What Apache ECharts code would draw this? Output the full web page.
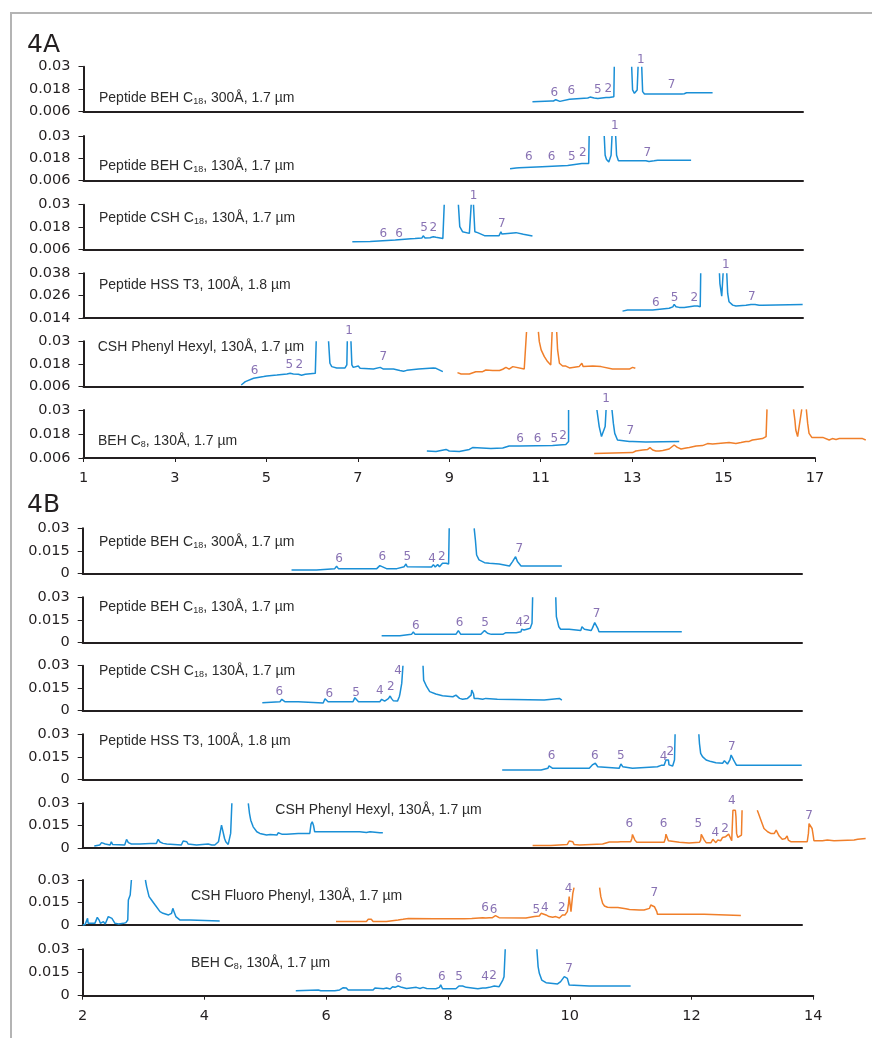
<!DOCTYPE html>
<html><head><meta charset="utf-8">
<script src="https://cdn.jsdelivr.net/npm/echarts@6/dist/echarts.min.js"></script>
<style>
html,body{margin:0;padding:0;background:#fff;overflow:hidden;}
#frame{position:absolute;left:10px;top:12px;width:900px;height:1100px;border-left:2px solid #b4b4b4;border-top:2px solid #b4b4b4;}
#chart{position:absolute;left:0;top:0;width:872px;height:1038px;}
</style></head>
<body><div id="frame"></div><div id="chart"></div>
<script>
// ---------- axis ranges / tick labels ----------
const xRangeA = [1, 17], xIntervalA = 2;
const xRangeB = [2, 14], xIntervalB = 2;
const yTicksA = [0.006, 0.018, 0.03];
const yTicksHSS = [0.014, 0.026, 0.038];
const yTicksB = [0, 0.015, 0.03];

// ---------- panel names ----------
const panelNamesA = [
  'Peptide BEH C{s|18}, 300Å, 1.7 µm',
  'Peptide BEH C{s|18}, 130Å, 1.7 µm',
  'Peptide CSH C{s|18}, 130Å, 1.7 µm',
  'Peptide HSS T3, 100Å, 1.8 µm',
  'CSH Phenyl Hexyl, 130Å, 1.7 µm',
  'BEH C{s|8}, 130Å, 1.7 µm'
];
const panelNamesB = [
  'Peptide BEH C{s|18}, 300Å, 1.7 µm',
  'Peptide BEH C{s|18}, 130Å, 1.7 µm',
  'Peptide CSH C{s|18}, 130Å, 1.7 µm',
  'Peptide HSS T3, 100Å, 1.8 µm',
  'CSH Phenyl Hexyl, 130Å, 1.7 µm',
  'CSH Fluoro Phenyl, 130Å, 1.7 µm',
  'BEH C{s|8}, 130Å, 1.7 µm'
];

// ---------- 4A traces ----------
const a1Blue = [[10.82,0.0113],[11.23,0.0117],[11.25,0.0122],[11.28,0.0117],[11.33,0.0124],[11.37,0.0115],[11.42,0.0115],[11.44,0.012],[11.63,0.0126],[11.64,0.0129],[12.03,0.0133],[12.05,0.0138],[12.08,0.0138],[12.10,0.0133],[12.17,0.0133],[12.21,0.014],[12.25,0.0131],[12.28,0.0136],[12.43,0.0136],[12.46,0.0144],[12.50,0.0136],[12.60,0.014],[12.61,0.03],[12.8,'-'],[12.99,0.03],[13.01,0.0176],[13.05,0.0158],[13.08,0.0154],[13.11,0.0176],[13.13,0.03],[13.17,'-'],[13.21,0.03],[13.23,0.0167],[13.27,0.0154],[13.81,0.0154],[13.85,0.0163],[13.89,0.0154],[14.09,0.0154],[14.10,0.0163],[14.14,0.0156],[14.19,0.0161],[14.76,0.0161]];
const a1Peaks = [[11.30,0.0158,'6'],[11.67,0.0172,'6'],[12.25,0.0179,'5'],[12.48,0.0181,'2'],[13.19,0.0339,'1'],[13.86,0.0202,'7']];

const a2Blue = [[10.33,0.0124],[10.46,0.0128],[10.50,0.0131],[10.53,0.0129],[11.03,0.0135],[11.04,0.014],[11.59,0.0142],[11.61,0.0151],[11.90,0.0152],[11.92,0.016],[11.95,0.0152],[12.05,0.0152],[12.06,0.03],[12.2,'-'],[12.39,0.03],[12.41,0.0197],[12.44,0.0174],[12.49,0.0161],[12.52,0.0167],[12.54,0.0197],[12.56,0.03],[12.6,'-'],[12.64,0.03],[12.66,0.0197],[12.70,0.0167],[13.17,0.0167],[13.21,0.0174],[13.23,0.0167],[13.30,0.0167],[13.32,0.0174],[13.37,0.0163],[13.48,0.0167],[13.52,0.0174],[13.56,0.017],[14.29,0.017]];
const a2Peaks = [[10.74,0.0188,'6'],[11.24,0.0188,'6'],[11.68,0.0188,'5'],[11.92,0.0209,'2'],[12.62,0.0355,'1'],[13.33,0.0209,'7']];

const a3Blue = [[6.88,0.0103],[7.27,0.0104],[7.28,0.0112],[7.82,0.0112],[7.84,0.0119],[8.16,0.0119],[8.19,0.0124],[8.25,0.012],[8.29,0.0122],[8.40,0.0122],[8.43,0.0134],[8.47,0.0122],[8.58,0.0124],[8.65,0.0129],[8.71,0.0126],[8.86,0.012],[8.89,0.012],[8.89,0.03],[9.0,'-'],[9.20,0.03],[9.23,0.0183],[9.29,0.0156],[9.44,0.0147],[9.46,0.0156],[9.48,0.03],[9.5,'-'],[9.53,0.03],[9.56,0.0156],[9.62,0.0151],[9.77,0.0135],[10.09,0.0135],[10.13,0.0156],[10.15,0.0144],[10.28,0.0147],[10.46,0.0151],[10.50,0.0144],[10.62,0.0142],[10.64,0.0133],[10.82,0.0133]];
const a3Peaks = [[7.56,0.0142,'6'],[7.90,0.0142,'6'],[8.45,0.0174,'5'],[8.65,0.0174,'2'],[9.53,0.0348,'1'],[10.15,0.020,'7']];

const a4Blue = [[12.79,0.0177],[12.90,0.0183],[13.45,0.0183],[13.48,0.0188],[13.81,0.0192],[13.89,0.020],[13.92,0.0213],[13.96,0.020],[14.03,0.0197],[14.07,0.0192],[14.14,0.0197],[14.18,0.0204],[14.36,0.0204],[14.40,0.0197],[14.43,0.0204],[14.49,0.02],[14.50,0.038],[14.7,'-'],[14.91,0.038],[14.92,0.0325],[14.95,0.0325],[14.96,0.0257],[14.99,0.0257],[14.99,0.038],[15.03,'-'],[15.07,0.038],[15.09,0.0272],[15.12,0.0227],[15.20,0.0209],[15.27,0.0204],[15.49,0.0208],[15.60,0.0213],[15.69,0.0213],[15.71,0.0204],[15.78,0.0209],[15.85,0.0208],[16.73,0.0213]];
const a4Peaks = [[13.52,0.0222,'6'],[13.93,0.025,'5'],[14.36,0.025,'2'],[15.05,0.0423,'1'],[15.62,0.0254,'7']];

const a5Blue = [[4.45,0.0067],[4.54,0.0085],[4.72,0.0103],[4.94,0.0112],[5.01,0.0115],[5.23,0.012],[5.45,0.0126],[5.48,0.0133],[5.52,0.0129],[5.59,0.0126],[5.70,0.0124],[5.77,0.0119],[5.81,0.0115],[5.85,0.0124],[6.07,0.0129],[6.09,0.03],[6.2,'-'],[6.36,0.03],[6.39,0.0183],[6.43,0.0165],[6.54,0.0158],[6.72,0.0158],[6.76,0.0174],[6.77,0.03],[6.8,'-'],[6.85,0.03],[6.87,0.0174],[6.90,0.0161],[7.01,0.0168],[7.05,0.0156],[7.34,0.0152],[7.49,0.0161],[7.52,0.017],[7.56,0.0152],[7.78,0.0152],[7.82,0.0144],[7.92,0.0144],[8.00,0.014],[8.07,0.0145],[8.33,0.0152],[8.65,0.0158],[8.71,0.0156],[8.86,0.0138]];
const a5Orange = [[9.18,0.0133],[9.26,0.0126],[9.44,0.0126],[9.58,0.0138],[9.73,0.0138],[9.80,0.0147],[9.95,0.0144],[10.10,0.0144],[10.17,0.0151],[10.24,0.0161],[10.28,0.017],[10.31,0.0152],[10.39,0.0165],[10.42,0.0156],[10.64,0.0152],[10.68,0.0152],[10.69,0.035],[10.8,'-'],[10.95,0.035],[10.97,0.0298],[11.01,0.0254],[11.08,0.0218],[11.15,0.0192],[11.22,0.0174],[11.25,0.0183],[11.25,0.035],[11.3,'-'],[11.35,0.035],[11.37,0.0254],[11.41,0.0183],[11.48,0.0168],[11.55,0.0168],[11.63,0.0158],[11.84,0.0165],[11.90,0.0183],[11.93,0.0165],[12.14,0.0168],[12.32,0.0165],[12.57,0.0152],[12.94,0.0152],[13.01,0.0161],[13.07,0.0156]];
const a5Peaks = [[4.74,0.0142,'6'],[5.50,0.0174,'5'],[5.72,0.0174,'2'],[6.81,0.0357,'1'],[7.56,0.0218,'7']];

const a6Blue = [[8.51,0.0095],[8.71,0.0092],[8.93,0.0103],[9.00,0.0095],[9.22,0.0092],[9.44,0.0103],[9.51,0.0112],[9.91,0.0108],[9.95,0.0113],[10.17,0.011],[10.31,0.012],[10.53,0.012],[10.57,0.0122],[11.26,0.0122],[11.55,0.0128],[11.61,0.0142],[11.61,0.03],[11.9,'-'],[12.23,0.03],[12.28,0.0217],[12.33,0.0167],[12.37,0.0158],[12.41,0.0217],[12.43,0.03],[12.5,'-'],[12.56,0.03],[12.59,0.0233],[12.62,0.0183],[12.68,0.015],[12.94,0.0143],[12.97,0.015],[13.01,0.0143],[13.30,0.014],[14.03,0.0142]];
const a6Orange = [[12.17,0.0083],[13.01,0.0087],[13.08,0.0095],[13.23,0.01],[13.34,0.0103],[13.39,0.0112],[13.45,0.01],[13.52,0.0095],[13.59,0.0095],[13.67,0.0098],[13.81,0.0105],[13.92,0.0125],[13.99,0.0113],[14.07,0.0105],[14.18,0.011],[14.25,0.0113],[14.40,0.012],[14.54,0.0122],[14.65,0.0132],[14.76,0.013],[15.12,0.0137],[15.27,0.0133],[15.38,0.0137],[15.49,0.0142],[15.56,0.0143],[15.63,0.015],[15.71,0.0153],[15.85,0.0157],[15.93,0.0167],[15.95,0.0303],[16.2,'-'],[16.53,0.0303],[16.56,0.025],[16.58,0.02],[16.62,0.0167],[16.65,0.0175],[16.71,0.0303],[16.76,'-'],[16.81,0.0303],[16.84,0.0233],[16.87,0.0183],[16.93,0.0163],[17.17,0.0163],[17.20,0.0155],[17.31,0.015],[17.38,0.0157],[17.46,0.0153],[17.53,0.0157],[18.04,0.0157],[18.11,0.015]];
const a6Peaks = [[10.55,0.0155,'6'],[10.93,0.0155,'6'],[11.30,0.0155,'5'],[11.49,0.0172,'2'],[12.43,0.0355,'1'],[12.96,0.0195,'7']];

// ---------- 4B traces ----------
const b1Blue = [[5.43,0.0022],[5.84,0.0022],[5.86,0.0031],[6.14,0.0031],[6.17,0.0047],[6.20,0.0031],[6.83,0.0031],[6.88,0.0051],[6.91,0.004],[6.99,0.0031],[7.16,0.0031],[7.28,0.0044],[7.31,0.0062],[7.33,0.0044],[7.35,0.0042],[7.73,0.0042],[7.76,0.0058],[7.79,0.0042],[7.80,0.0049],[7.83,0.0058],[7.86,0.0044],[7.91,0.0067],[7.94,0.0056],[7.97,0.0067],[8.01,0.0062],[8.02,0.03],[8.2,'-'],[8.43,0.03],[8.45,0.0222],[8.47,0.0122],[8.51,0.0089],[8.60,0.0071],[8.68,0.0067],[8.84,0.0062],[8.87,0.0049],[9.01,0.0049],[9.06,0.0078],[9.11,0.0111],[9.13,0.0111],[9.14,0.0078],[9.20,0.0049],[9.42,0.0049],[9.43,0.0058],[9.44,0.0049],[9.64,0.0049],[9.65,0.0058],[9.67,0.0049],[9.75,0.0049],[9.76,0.0062],[9.77,0.0049],[9.87,0.0049]];
const b1Peaks = [[6.21,0.0096,'6'],[6.92,0.0107,'6'],[7.33,0.0107,'5'],[7.74,0.0096,'4'],[7.90,0.0111,'2'],[9.17,0.0162,'7']];

const b2Blue = [[6.91,0.0044],[7.21,0.0044],[7.23,0.0053],[7.40,0.0053],[7.43,0.0069],[7.46,0.0053],[7.80,0.0053],[8.13,0.0053],[8.17,0.0078],[8.21,0.0053],[8.54,0.0053],[8.60,0.0078],[8.65,0.006],[8.71,0.0053],[8.84,0.0053],[8.87,0.0064],[8.90,0.0053],[8.95,0.0064],[8.98,0.006],[9.12,0.0064],[9.20,0.0071],[9.21,0.0087],[9.25,0.0082],[9.31,0.0089],[9.35,0.0093],[9.38,0.0127],[9.39,0.03],[9.6,'-'],[9.77,0.03],[9.78,0.0171],[9.82,0.0104],[9.85,0.0087],[9.99,0.0087],[10.02,0.0078],[10.18,0.0078],[10.20,0.0104],[10.24,0.0087],[10.35,0.0078],[10.37,0.0093],[10.41,0.0131],[10.44,0.0138],[10.46,0.0093],[10.48,0.0071],[10.62,0.0071],[10.65,0.0082],[10.68,0.0071],[11.84,0.0071]];
const b2Peaks = [[7.47,0.0109,'6'],[8.19,0.0131,'6'],[8.61,0.0131,'5'],[9.17,0.0131,'4'],[9.29,0.0142,'2'],[10.44,0.0187,'7']];

const b3Blue = [[4.95,0.0053],[4.96,0.006],[5.24,0.006],[5.27,0.0076],[5.29,0.0076],[5.32,0.006],[5.54,0.006],[5.56,0.0051],[5.95,0.0051],[5.98,0.008],[6.01,0.008],[6.03,0.006],[6.44,0.006],[6.47,0.0087],[6.50,0.0076],[6.53,0.006],[6.88,0.006],[6.91,0.0076],[6.94,0.0071],[6.96,0.0064],[6.99,0.0071],[7.02,0.008],[7.05,0.0098],[7.07,0.0082],[7.10,0.0067],[7.13,0.0058],[7.17,0.0064],[7.20,0.0093],[7.21,0.0111],[7.24,0.0182],[7.25,0.0193],[7.26,0.03],[7.4,'-'],[7.59,0.03],[7.60,0.0204],[7.65,0.016],[7.70,0.0127],[7.80,0.0111],[7.91,0.01],[8.08,0.0093],[8.13,0.0104],[8.19,0.0082],[8.24,0.0076],[8.32,0.0082],[8.35,0.0071],[8.38,0.0104],[8.39,0.0138],[8.42,0.0111],[8.43,0.0082],[8.49,0.0082],[8.57,0.0076],[8.62,0.0082],[8.65,0.0076],[8.81,0.0076],[8.84,0.0071],[9.58,0.0071],[9.61,0.0082],[9.83,0.0082],[9.87,0.0071]];
const b3Peaks = [[5.23,0.0127,'6'],[6.05,0.0111,'6'],[6.49,0.0116,'5'],[6.88,0.0131,'4'],[7.06,0.016,'2'],[7.18,0.0264,'4']];

const b4Blue = [[8.89,0.0062],[9.53,0.0062],[9.54,0.0073],[9.64,0.0073],[9.66,0.0089],[9.69,0.0093],[9.72,0.0073],[10.32,0.0073],[10.37,0.0096],[10.42,0.0107],[10.46,0.0084],[10.48,0.0073],[10.81,0.0073],[10.84,0.0102],[10.87,0.0084],[10.89,0.0073],[11.03,0.0073],[11.05,0.0084],[11.44,0.0084],[11.50,0.0093],[11.55,0.0093],[11.58,0.0129],[11.62,0.0129],[11.63,0.0096],[11.66,0.0107],[11.69,0.0089],[11.72,0.0129],[11.73,0.03],[11.9,'-'],[12.12,0.03],[12.13,0.024],[12.15,0.0173],[12.18,0.0151],[12.24,0.0129],[12.32,0.0118],[12.40,0.0111],[12.51,0.0107],[12.54,0.0124],[12.56,0.0124],[12.59,0.0102],[12.63,0.0129],[12.65,0.0162],[12.67,0.0162],[12.69,0.0129],[12.72,0.0107],[12.74,0.0093],[13.81,0.0093]];
const b4Peaks = [[9.70,0.0156,'6'],[10.41,0.0156,'6'],[10.84,0.0156,'5'],[11.54,0.0151,'4'],[11.65,0.018,'2'],[12.66,0.0218,'7']];

const b5Blue = [[2.19,0.0013],[2.28,0.002],[2.31,0.0036],[2.34,0.0042],[2.37,0.0027],[2.45,0.002],[2.47,0.0042],[2.49,0.0024],[2.69,0.002],[2.72,0.0058],[2.75,0.0036],[2.78,0.0031],[2.80,0.0027],[2.83,0.0031],[2.94,0.0027],[2.97,0.0031],[3.11,0.0031],[3.13,0.0036],[3.21,0.0031],[3.24,0.0058],[3.27,0.004],[3.32,0.0031],[3.35,0.004],[3.38,0.0027],[3.41,0.002],[3.62,0.002],[3.65,0.0047],[3.68,0.0058],[3.71,0.0042],[3.73,0.0027],[3.87,0.002],[3.90,0.0027],[4.06,0.0027],[4.09,0.0036],[4.12,0.002],[4.17,0.002],[4.23,0.0042],[4.25,0.0087],[4.28,0.0153],[4.31,0.0142],[4.33,0.0064],[4.35,0.0042],[4.39,0.0024],[4.42,0.0031],[4.43,0.0098],[4.45,0.03],[4.6,'-'],[4.72,0.03],[4.74,0.0231],[4.76,0.0187],[4.80,0.0142],[4.86,0.0109],[4.91,0.0098],[5.02,0.0087],[5.08,0.0091],[5.19,0.0087],[5.21,0.0102],[5.24,0.0109],[5.27,0.0093],[5.29,0.0102],[5.35,0.0093],[5.54,0.0098],[5.57,0.0098],[5.73,0.0098],[5.75,0.016],[5.77,0.0176],[5.79,0.0153],[5.81,0.0109],[6.12,0.0109],[6.55,0.0109],[6.56,0.0104],[6.66,0.0104],[6.72,0.0109],[6.88,0.0102],[6.93,0.0102]];
const b5Orange = [[9.39,0.0016],[9.69,0.0016],[9.71,0.0024],[9.96,0.0024],[9.99,0.0047],[10.02,0.0058],[10.05,0.0042],[10.07,0.0024],[10.16,0.002],[10.18,0.0027],[10.54,0.0027],[10.57,0.0031],[10.65,0.004],[10.68,0.0049],[10.70,0.004],[10.79,0.004],[10.81,0.0036],[10.84,0.0042],[11.00,0.0042],[11.02,0.0064],[11.03,0.0091],[11.05,0.0087],[11.07,0.0053],[11.10,0.0038],[11.39,0.0038],[11.40,0.0047],[11.41,0.0038],[11.55,0.0038],[11.57,0.0064],[11.58,0.0093],[11.60,0.0087],[11.62,0.0049],[11.64,0.0038],[11.80,0.0038],[11.81,0.0047],[11.83,0.0033],[11.96,0.0033],[11.99,0.0031],[12.13,0.0038],[12.15,0.0053],[12.16,0.0091],[12.18,0.0093],[12.21,0.0053],[12.24,0.0036],[12.32,0.0036],[12.35,0.0058],[12.37,0.0049],[12.40,0.0036],[12.43,0.0053],[12.45,0.0058],[12.48,0.0049],[12.51,0.0071],[12.54,0.008],[12.56,0.0076],[12.58,0.0064],[12.61,0.0093],[12.64,0.0087],[12.66,0.0049],[12.67,0.0053],[12.68,0.0253],[12.72,0.0253],[12.73,0.0209],[12.74,0.0098],[12.76,0.0071],[12.79,0.0058],[12.82,0.0087],[12.83,0.0253],[12.95,'-'],[13.08,0.0253],[13.10,0.0231],[13.14,0.0187],[13.19,0.0131],[13.25,0.0109],[13.30,0.0098],[13.36,0.0098],[13.39,0.012],[13.41,0.0109],[13.44,0.008],[13.49,0.0058],[13.54,0.0064],[13.57,0.008],[13.59,0.0053],[13.63,0.0042],[13.90,0.0042],[13.92,0.0098],[13.93,0.0164],[13.95,0.0164],[13.98,0.0131],[14.00,0.008],[14.01,0.0049],[14.15,0.0049],[14.18,0.0058],[14.23,0.0053],[14.34,0.0049],[14.37,0.0053],[14.67,0.0053],[14.70,0.0064],[14.73,0.0058],[14.86,0.0064]];
const b5Peaks = [[10.98,0.016,'6'],[11.54,0.016,'6'],[12.11,0.016,'5'],[12.39,0.0102,'4'],[12.55,0.0127,'2'],[12.66,0.0313,'4'],[13.93,0.0213,'7']];

const b6Blue = [[2.0,0],[2.04,0.0004],[2.08,0.0044],[2.09,0.0011],[2.12,0.0004],[2.20,0.0011],[2.24,0.0051],[2.27,0.0033],[2.29,0.0011],[2.34,0.0022],[2.37,0.0007],[2.39,0.0016],[2.42,0.0056],[2.45,0.006],[2.48,0.0044],[2.50,0.0033],[2.53,0.0011],[2.56,0.0022],[2.59,0.0007],[2.61,0.0016],[2.67,0.0011],[2.71,0.0016],[2.74,0.0033],[2.75,0.0167],[2.78,0.02],[2.79,0.0211],[2.80,0.03],[2.9,'-'],[3.03,0.03],[3.05,0.0256],[3.09,0.0189],[3.13,0.0167],[3.19,0.0133],[3.27,0.0089],[3.32,0.0078],[3.41,0.0067],[3.46,0.0078],[3.48,0.0111],[3.50,0.0089],[3.53,0.0056],[3.60,0.0033],[3.76,0.0033],[3.77,0.0027],[4.25,0.0027]];
const b6Orange = [[6.16,0.0024],[6.66,0.0024],[6.69,0.0038],[6.74,0.0038],[6.77,0.0024],[6.99,0.0024],[7.02,0.0033],[7.18,0.0033],[7.21,0.0044],[7.26,0.0038],[7.29,0.0044],[7.35,0.0044],[7.37,0.0038],[7.76,0.0042],[8.27,0.0042],[8.28,0.0044],[8.39,0.0044],[8.42,0.0049],[8.57,0.0049],[8.60,0.0056],[8.62,0.0047],[8.68,0.0049],[8.73,0.0049],[8.76,0.0056],[8.78,0.0062],[8.81,0.006],[8.84,0.0049],[8.87,0.0047],[9.28,0.0047],[9.31,0.0056],[9.42,0.0056],[9.44,0.0051],[9.50,0.006],[9.53,0.0078],[9.55,0.0073],[9.61,0.0067],[9.66,0.0056],[9.72,0.0051],[9.77,0.0056],[9.80,0.0051],[9.83,0.0047],[9.85,0.006],[9.88,0.0067],[9.92,0.0067],[9.94,0.0078],[9.96,0.0089],[9.98,0.0144],[9.99,0.0189],[10.01,0.0184],[10.02,0.0089],[10.04,0.01],[10.05,0.0211],[10.07,0.0249],[10.3,'-'],[10.49,0.0249],[10.51,0.0189],[10.54,0.0144],[10.57,0.0127],[10.62,0.0118],[10.68,0.0116],[10.79,0.0116],[10.81,0.0109],[10.92,0.0109],[10.98,0.0104],[11.14,0.01],[11.17,0.0096],[11.22,0.01],[11.31,0.0111],[11.33,0.0133],[11.36,0.014],[11.39,0.0122],[11.43,0.0089],[11.44,0.0071],[12.21,0.0071],[12.22,0.0064],[12.81,0.0064]];
const b6Peaks = [[8.61,0.0111,'6'],[8.75,0.0104,'6'],[9.45,0.0104,'5'],[9.59,0.0116,'4'],[9.87,0.0111,'2'],[9.98,0.0242,'4'],[11.39,0.0216,'7']];

const b7Blue = [[5.50,0.0032],[5.87,0.0037],[5.89,0.0045],[5.91,0.0032],[5.98,0.0032],[6.01,0.0028],[6.14,0.0032],[6.22,0.0037],[6.28,0.0052],[6.33,0.005],[6.36,0.0037],[6.77,0.0037],[6.80,0.005],[6.94,0.0045],[6.99,0.005],[7.05,0.0043],[7.09,0.0058],[7.13,0.0054],[7.18,0.0063],[7.21,0.0065],[7.24,0.0054],[7.32,0.0047],[7.48,0.0054],[7.54,0.0047],[7.59,0.0054],[7.65,0.0047],[7.80,0.0045],[7.86,0.0054],[7.88,0.0071],[7.91,0.0045],[8.13,0.0045],[8.18,0.0063],[8.21,0.0071],[8.24,0.0063],[8.30,0.0054],[8.49,0.0045],[8.57,0.005],[8.62,0.005],[8.65,0.0058],[8.68,0.0054],[8.76,0.0063],[8.79,0.0071],[8.84,0.0058],[8.87,0.0067],[8.90,0.0101],[8.92,0.0123],[8.94,0.03],[9.2,'-'],[9.46,0.03],[9.48,0.0188],[9.50,0.0145],[9.54,0.0101],[9.61,0.0084],[9.80,0.0076],[9.85,0.0091],[9.91,0.0123],[9.94,0.0134],[9.96,0.0112],[9.99,0.0069],[10.02,0.0063],[10.32,0.0063],[10.35,0.0058],[11.00,0.0063]];
const b7Peaks = [[7.19,0.0108,'6'],[7.90,0.0123,'6'],[8.18,0.0123,'5'],[8.61,0.0123,'4'],[8.74,0.0127,'2'],[9.99,0.0173,'7']];

// ---------- styles & layout ----------
const BLUE = '#1a8fd6', ORANGE = '#f07f2a', PURPLE = '#6a4fa0', INK = '#231f20';
const AXIS_FONT = 'DejaVu Sans', LABEL_FONT = 'Liberation Sans';

const layoutA = { left: 83.5, tops: [66.7,136,204.7,273.3,341.3,410], heights: [45,44.7,45,44.7,45,48], shortW: 719.5, fullW: 731.5, dataW: 785,
  titles: [[99,97.7],[99,166],[99,218.3],[99,285],[97.7,346.7],[98,440.7]] };
const layoutB = { left: 82.7, tops: [528.3,597.3,665.7,734.3,803.3,880,949.3], heights: [45,45,45,45,44.7,45,46.4], shortW: 719.3, fullW: 730.6, dataW: 785,
  titles: [[99,542.3],[99,606.7],[99,670.7],[99,740.7],[275.3,810],[191,895.7],[191,963.3]] };

const panelsA = [
  { name: panelNamesA[0], lines: [[a1Blue, BLUE]], peaks: a1Peaks, yt: yTicksA },
  { name: panelNamesA[1], lines: [[a2Blue, BLUE]], peaks: a2Peaks, yt: yTicksA },
  { name: panelNamesA[2], lines: [[a3Blue, BLUE]], peaks: a3Peaks, yt: yTicksA },
  { name: panelNamesA[3], lines: [[a4Blue, BLUE]], peaks: a4Peaks, yt: yTicksHSS },
  { name: panelNamesA[4], lines: [[a5Blue, BLUE],[a5Orange, ORANGE]], peaks: a5Peaks, yt: yTicksA },
  { name: panelNamesA[5], lines: [[a6Blue, BLUE],[a6Orange, ORANGE]], peaks: a6Peaks, yt: yTicksA }
];
const panelsB = [
  { name: panelNamesB[0], lines: [[b1Blue, BLUE]], peaks: b1Peaks, yt: yTicksB },
  { name: panelNamesB[1], lines: [[b2Blue, BLUE]], peaks: b2Peaks, yt: yTicksB },
  { name: panelNamesB[2], lines: [[b3Blue, BLUE]], peaks: b3Peaks, yt: yTicksB },
  { name: panelNamesB[3], lines: [[b4Blue, BLUE]], peaks: b4Peaks, yt: yTicksB },
  { name: panelNamesB[4], lines: [[b5Blue, BLUE],[b5Orange, ORANGE]], peaks: b5Peaks, yt: yTicksB },
  { name: panelNamesB[5], lines: [[b6Blue, BLUE],[b6Orange, ORANGE]], peaks: b6Peaks, yt: yTicksB },
  { name: panelNamesB[6], lines: [[b7Blue, BLUE]], peaks: b7Peaks, yt: yTicksB }
];

const headStyle = { fontSize: 25, fontWeight: 'normal', fontFamily: AXIS_FONT, color: INK, lineHeight: 25 };
const option = { animation: false, grid: [], xAxis: [], yAxis: [], series: [], title: [
  { text: '4A', left: 27, top: 33, padding: 0, textStyle: headStyle },
  { text: '4B', left: 27, top: 493, padding: 0, textStyle: headStyle }
] };

function addSection(panels, lay, xr, xint) {
  const span = xr[1] - xr[0];
  panels.forEach((p, k) => {
    const last = k === panels.length - 1;
    const w = last ? lay.fullW : lay.shortW;
    const yt = p.yt;
    const ymin = yt[0], ymax = yt[yt.length - 1];
    // visible axis frame
    const ai = option.grid.length;
    option.grid.push({ left: lay.left, top: lay.tops[k], width: w, height: lay.heights[k] });
    option.xAxis.push({
      type: 'value', gridIndex: ai, min: xr[0], max: xr[0] + span * w / lay.fullW, interval: xint,
      axisLine: { show: true, onZero: false, lineStyle: { color: INK, width: 2 } },
      axisTick: { show: last, length: 4, lineStyle: { color: INK, width: 1 } },
      axisLabel: { show: last, margin: 13, fontSize: 14.5, fontFamily: AXIS_FONT, color: INK },
      splitLine: { show: false }
    });
    option.yAxis.push({
      type: 'value', gridIndex: ai, min: ymin, max: ymax, interval: yt[1] - yt[0],
      axisLine: { show: true, onZero: false, lineStyle: { color: INK, width: 2 } },
      axisTick: { show: true, length: 5, lineStyle: { color: INK, width: 1 } },
      axisLabel: { margin: 13, fontSize: 14.5, fontFamily: AXIS_FONT, color: INK,
        formatter: v => String(+(+v).toFixed(3)) },
      splitLine: { show: false }
    });
    // data area on the same scale, wider so traces may run past the axis end
    const di = option.grid.length;
    option.grid.push({ left: lay.left, top: lay.tops[k], width: lay.dataW, height: lay.heights[k] });
    option.xAxis.push({ type: 'value', gridIndex: di, min: xr[0], max: xr[0] + span * lay.dataW / lay.fullW, show: false });
    option.yAxis.push({ type: 'value', gridIndex: di, min: ymin, max: ymax, show: false });
    p.lines.forEach(([data, color]) => {
      option.series.push({ type: 'line', xAxisIndex: di, yAxisIndex: di, data: data, clip: false,
        showSymbol: false, symbol: 'none', connectNulls: false, silent: true,
        lineStyle: { color: color, width: 1.5 }, z: 3 });
    });
    option.series.push({ type: 'scatter', xAxisIndex: di, yAxisIndex: di, data: p.peaks, clip: false, silent: true,
      symbolSize: 0.1, itemStyle: { color: 'rgba(0,0,0,0)' }, z: 4,
      label: { show: true, position: 'inside', formatter: q => q.data[2], color: PURPLE, fontSize: 12, fontFamily: AXIS_FONT } });
    const [tl, tc] = lay.titles[k];
    option.title.push({ text: p.name, left: tl, top: tc - 8, padding: 0,
      textStyle: { fontSize: 14, fontWeight: 'normal', fontFamily: LABEL_FONT, color: '#2b2b2b', lineHeight: 16,
        rich: { s: { fontSize: 9, lineHeight: 9, verticalAlign: 'bottom', fontFamily: LABEL_FONT, color: '#2b2b2b' } } } });
  });
}
addSection(panelsA, layoutA, xRangeA, xIntervalA);
addSection(panelsB, layoutB, xRangeB, xIntervalB);

const chart = echarts.init(document.getElementById('chart'), null, { renderer: 'canvas' });
chart.setOption(option);
</script>
</body></html>
